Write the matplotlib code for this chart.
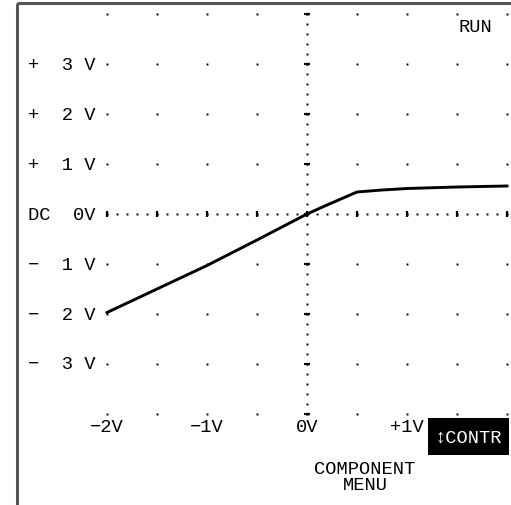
# Oscilloscope-style transfer curve (component test screen)
import numpy as np
import matplotlib; matplotlib.use("Agg"); import matplotlib.pyplot as plt

vin = [-2.0, -1.5, -1.0, -0.5, 0.0, 0.2, 0.5, 0.75, 1.0, 1.5, 2.0]
vout = [-1.97, -1.5, -1.03, -0.52, 0.0, 0.18, 0.44, 0.48, 0.51, 0.54, 0.56]
y_rows = [3, 2, 1, -1, -2, -3]
y_signs = ["+", "+", "+", "\u2212", "\u2212", "\u2212"]
x_ticks = [-2, -1, 0, 1]
x_labels = ["\u22122V", "\u22121V", "0V", "+1V"]

W, H = 511, 506
def X(px): return (px - 307) / 100.0   # 1 V per 100 px
def Y(py): return (215 - py) / 50.0    # 1 V per 50 px

fig = plt.figure(figsize=(W / 100, H / 100), dpi=100)
ax = fig.add_axes([0, 0, 1, 1])
ax.set_xlim(X(0), X(W)); ax.set_ylim(Y(H), Y(0)); ax.axis("off")
mono = dict(family=["Liberation Mono", "DejaVu Sans"], fontsize=13.5, color="black")

# frame (partly cropped)
ax.plot([X(17), X(17)], [Y(4), Y(H)], color="#555555", lw=2.2, solid_capstyle="butt")
ax.plot([X(17), X(W)], [Y(4), Y(4)], color="#555555", lw=2.2, solid_capstyle="butt")

# graticule dots
gx = np.arange(-2, 2.01, 0.5)
gy = np.arange(-4, 4.01, 1.0)
GX, GY = np.meshgrid(gx, gy)
ax.plot(GX.ravel(), GY.ravel(), "s", color="black", ms=1.4, mew=0)
# dotted centre axes with tick marks
ax.plot(np.arange(-2, 2.01, 0.1), np.zeros(41), "s", color="black", ms=1.4, mew=0)
ax.plot(gx, np.zeros(len(gx)), "|", color="black", ms=5, mew=1.6)
ax.plot(np.zeros(41), np.arange(-4, 4.01, 0.2), "s", color="black", ms=1.4, mew=0)
ax.plot(np.zeros(len(gy)), gy, "_", color="black", ms=5, mew=1.6)

# curve
ax.plot(vin, vout, color="black", lw=2.1)

# left scale labels
for v, s in zip(y_rows, y_signs):
    ax.text(X(28), v, f"{s}  {abs(v)} V", ha="left", va="center", **mono)
ax.text(X(28), 0, "DC  0V", ha="left", va="center", **mono)

# bottom x labels
for v, lab in zip(x_ticks, x_labels):
    ax.text(v, Y(428), lab, ha="center", va="center", **mono)

ax.text(X(475), Y(27), "RUN", ha="center", va="center", **mono)
ax.add_patch(plt.Rectangle((X(428), Y(456)), X(509) - X(428), Y(419) - Y(456),
                           color="black", lw=0))
ax.text(X(468), Y(438), "\u2195CONTR", ha="center", va="center",
        **{**mono, "color": "white"})
ax.text(X(365), Y(470), "COMPONENT", ha="center", va="center", **mono)
ax.text(X(365), Y(486), "MENU", ha="center", va="center", **mono)

fig.savefig("out.png", dpi=100)
